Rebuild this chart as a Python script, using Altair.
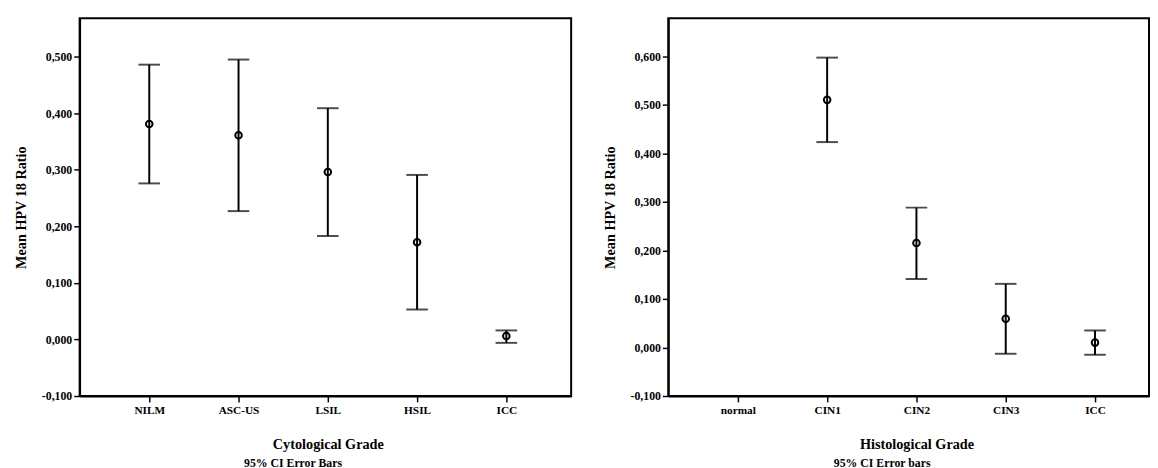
import altair as alt
import pandas as pd

FONT = "Liberation Serif"

# ---- data ----
cyto_grades = ["NILM", "ASC-US", "LSIL", "HSIL", "ICC"]
cyto_mean = [0.381, 0.361, 0.296, 0.172, 0.006]
cyto_low = [0.276, 0.227, 0.183, 0.053, -0.006]
cyto_high = [0.486, 0.495, 0.409, 0.291, 0.016]
cyto_yticks = [-0.1, 0.0, 0.1, 0.2, 0.3, 0.4, 0.5]

histo_grades = ["normal", "CIN1", "CIN2", "CIN3", "ICC"]
histo_data_grades = ["CIN1", "CIN2", "CIN3", "ICC"]
histo_mean = [0.510, 0.215, 0.059, 0.010]
histo_low = [0.423, 0.141, -0.013, -0.015]
histo_high = [0.597, 0.288, 0.131, 0.035]
histo_yticks = [-0.1, 0.0, 0.1, 0.2, 0.3, 0.4, 0.5, 0.6]

Y_TITLE = "Mean HPV 18 Ratio"
LABEL_EXPR = "(datum.value < -0.00001 ? '-' : '') + replace(format(abs(datum.value), '.3f'), '.', ',')"


def panel(grades, dgrades, mean, low, high, ydomain, yticks, xtitle, foot,
          pad, align, width, footdx):
    df = pd.DataFrame({"grade": dgrades, "mean": mean, "low": low, "high": high})
    xscale = alt.Scale(domain=grades, type="point", padding=pad, align=align)
    xaxis = alt.Axis(title=xtitle, labelAngle=0, titleX=253, tickSize=6,
                     tickWidth=1.5, labelPadding=3, titlePadding=22,
                     labelFont=FONT, labelFontSize=11.5, labelFontWeight="bold",
                     titleFont=FONT, titleFontSize=14.5, titleFontWeight="bold",
                     labelColor="black", titleColor="black", tickColor="black",
                     domainColor="black", domainWidth=2, grid=False)
    yscale = alt.Scale(domain=ydomain, nice=False, zero=False)
    yaxis = alt.Axis(values=yticks, labelExpr=LABEL_EXPR, tickSize=6,
                     tickWidth=1.5, labelPadding=2, titlePadding=13,
                     labelFont=FONT, labelFontSize=12, labelFontWeight="bold",
                     titleFont=FONT, titleFontSize=14.5, titleFontWeight="bold",
                     labelColor="black", titleColor="black", tickColor="black",
                     domainColor="black", domainWidth=2, grid=False)

    def X():
        return alt.X("grade:N", sort=grades, scale=xscale, axis=xaxis)

    def Y(field):
        return alt.Y(field, type="quantitative", scale=yscale, axis=yaxis, title=Y_TITLE)

    base = alt.Chart(df)
    rule = base.mark_rule(color="black", strokeWidth=2).encode(
        x=X(), y=Y("low"), y2="high")
    cap_lo = base.mark_tick(color="black", size=22, thickness=2).encode(
        x=X(), y=Y("low"))
    cap_hi = base.mark_tick(color="black", size=22, thickness=2).encode(
        x=X(), y=Y("high"))
    pts = base.mark_point(shape="circle", filled=False, color="black",
                          strokeWidth=2, size=45, opacity=1).encode(
        x=X(), y=Y("mean"))
    return alt.layer(rule, cap_lo, cap_hi, pts).properties(
        width=width, height=385,
        title=alt.TitleParams(text=foot, orient="bottom", anchor="middle",
                              frame="group", dx=footdx, offset=7, font=FONT,
                              fontSize=12, fontWeight="bold", color="black"))


left = panel(cyto_grades, cyto_grades, cyto_mean, cyto_low, cyto_high,
             [-0.1, 0.568], cyto_yticks, "Cytological Grade",
             "95%  CI Error Bars", 0.753, 0.518, 501, -33)
right = panel(histo_grades, histo_data_grades, histo_mean, histo_low, histo_high,
              [-0.1, 0.678], histo_yticks, "Histological Grade",
              "95%  CI Error bars", 0.692, 0.563, 490, -27)

chart = alt.hconcat(left, right, spacing=30).properties(
    padding={"left": 5, "top": 5, "right": 0, "bottom": 0}
).configure(background="white").configure_view(stroke="black", strokeWidth=2)

chart.save("out.html", embed_options={"renderer": "svg", "actions": False})
